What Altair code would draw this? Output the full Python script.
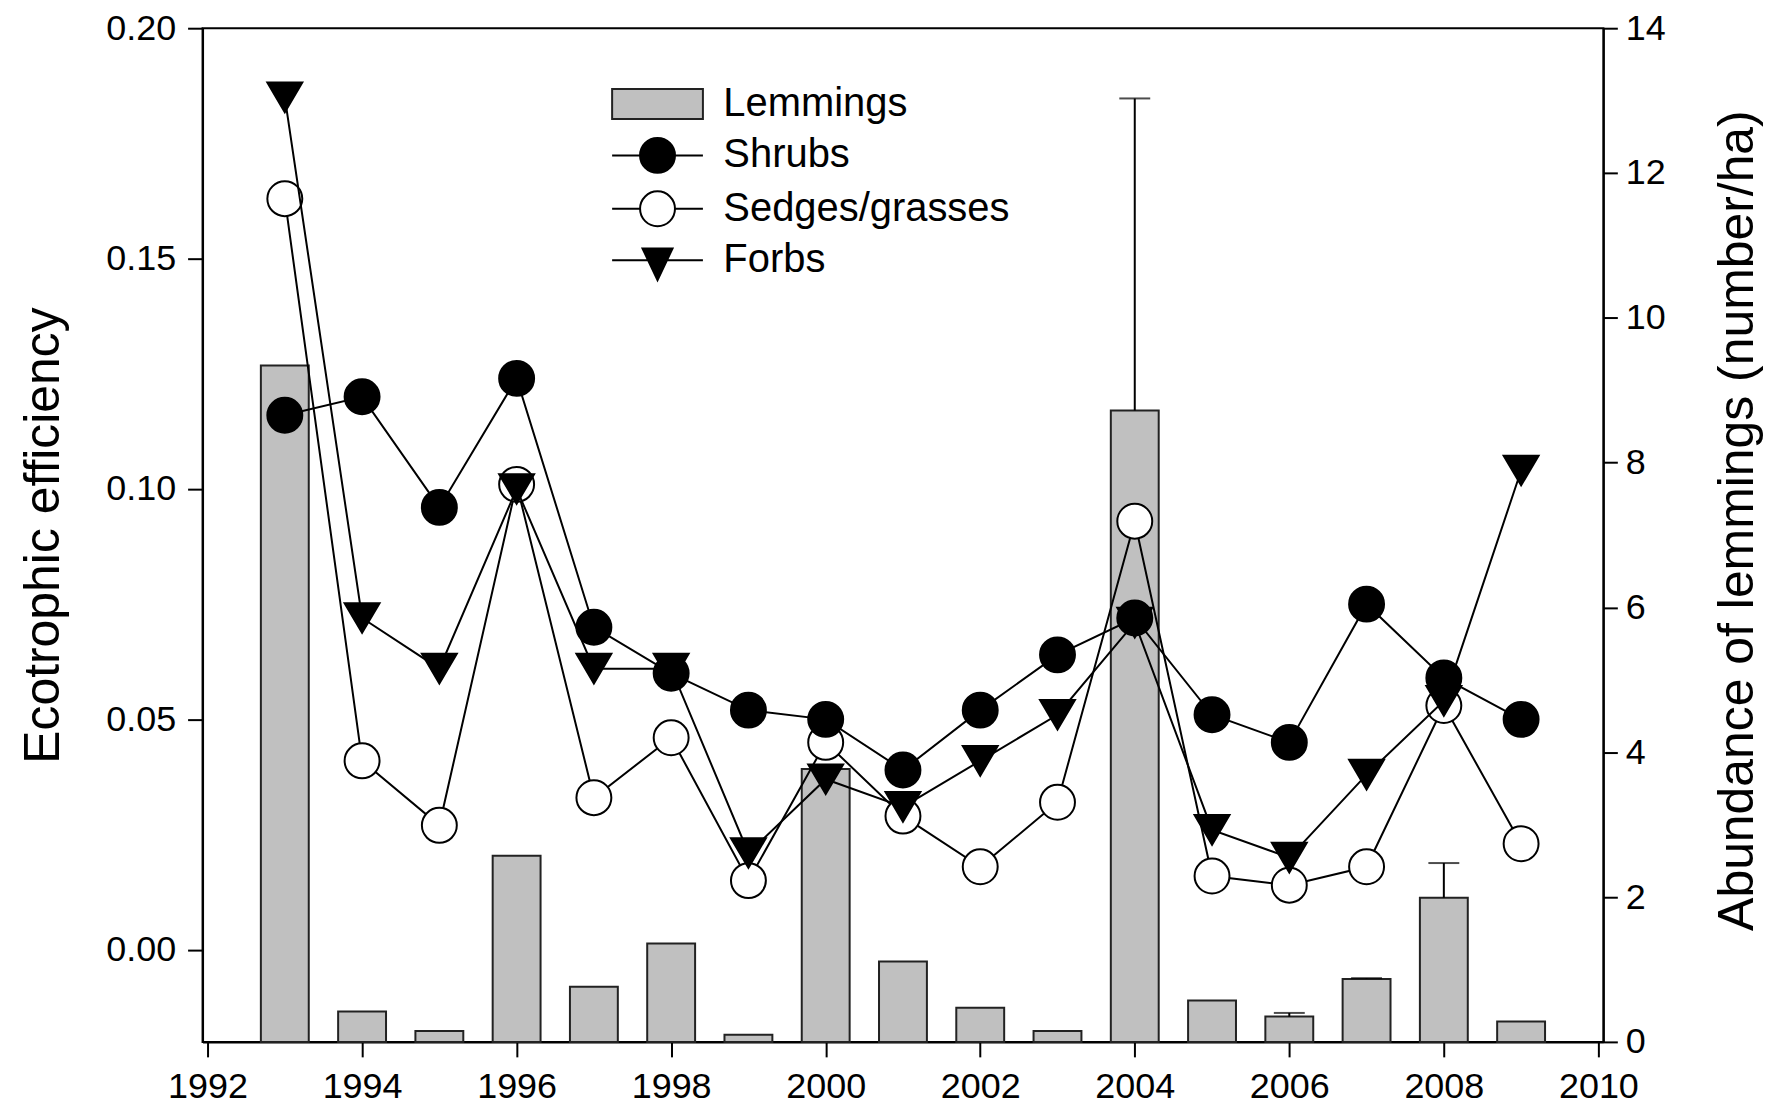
import altair as alt
import pandas as pd

years = list(range(1993, 2010))
shrubs = [0.116, 0.120, 0.096, 0.124, 0.070, 0.060, 0.052, 0.050, 0.039, 0.052, 0.064, 0.072, 0.051, 0.045, 0.075, 0.059, 0.050]
sedges = [0.163, 0.041, 0.027, 0.101, 0.033, 0.046, 0.015, 0.045, 0.029, 0.018, 0.032, 0.093, 0.016, 0.014, 0.018, 0.053, 0.023]
forbs = [0.185, 0.072, 0.061, 0.100, 0.061, 0.061, 0.021, 0.037, 0.031, 0.041, 0.051, 0.071, 0.026, 0.020, 0.038, 0.054, 0.104]
lemmings = [9.34, 0.42, 0.15, 2.57, 0.76, 1.36, 0.10, 3.77, 1.11, 0.47, 0.15, 8.72, 0.57, 0.35, 0.87, 1.99, 0.28]
err_years = [2004, 2006, 2007, 2008]
err_tops = [13.03, 0.40, 0.88, 2.47]

legend_names = ["Lemmings", "Shrubs", "Sedges/grasses", "Forbs"]

FONT = "Liberation Sans"

lem_df = pd.DataFrame({"year": years, "lem": lemmings})
err_df = pd.DataFrame({"year": err_years, "err": err_tops})
err_df = err_df.merge(lem_df, on="year")
plant_df = pd.DataFrame({"year": years, "Shrubs": shrubs, "Sedges": sedges, "Forbs": forbs})
legend_df = pd.DataFrame({"series": legend_names})

def xenc():
    return alt.X("year:Q",
                 scale=alt.Scale(domain=[1992, 2010], nice=False, zero=False),
                 axis=alt.Axis(values=list(range(1992, 2011, 2)), format="d", title=None,
                               tickSize=15, labelPadding=13))

def y_right(field):
    return alt.Y(field, type="quantitative",
                 scale=alt.Scale(domain=[0, 14], nice=False),
                 axis=alt.Axis(orient="right", values=list(range(0, 15, 2)),
                               title="Abundance of lemmings (number/ha)",
                               titleAngle=270, titleX=134, titleY=493,
                               titleAlign="center", titleBaseline="middle",
                               tickSize=14, labelPadding=8))

def y_left(field):
    return alt.Y(field, type="quantitative",
                 scale=alt.Scale(domain=[-0.02, 0.20], nice=False, zero=False),
                 axis=alt.Axis(orient="left", values=[0.0, 0.05, 0.10, 0.15, 0.20], format=".2f",
                               title="Ecotrophic efficiency",
                               titleAngle=270, titleX=-159, titleY=508,
                               titleAlign="center", titleBaseline="middle",
                               tickSize=15, labelPadding=12))

bars = alt.Chart(lem_df).mark_bar(size=48, fill="#c0c0c0", stroke="#222222", strokeWidth=2).encode(
    x=xenc(), y=y_right("lem"))
err_rule = alt.Chart(err_df).mark_rule(color="black", strokeWidth=2).encode(
    x=xenc(), y=y_right("lem"), y2="err")
err_cap = alt.Chart(err_df).mark_tick(orient="horizontal", size=31, thickness=2, color="black").encode(
    x=xenc(), y=y_right("err"))
lem_layer = alt.layer(bars, err_rule, err_cap)

tri_path = "M-1,-0.85L1,-0.85L0,0.85Z"

def series_layers(field, shape, fill):
    line = alt.Chart(plant_df).mark_line(color="black", strokeWidth=2).encode(
        x=xenc(), y=y_left(field))
    pts = alt.Chart(plant_df).mark_point(shape=shape, size=1225, filled=False, fill=fill, fillOpacity=1,
                                         stroke="black", strokeWidth=2, opacity=1).encode(
        x=xenc(), y=y_left(field))
    return [line, pts]

legend_paths = [
    "M-2.6,-0.86H2.6V0.86H-2.6Z",
    "M-2.6,0H2.6M-1,0A1,1,0,1,0,1,0A1,1,0,1,0,-1,0Z",
    "M-2.6,0H-1M1,0H2.6M-1,0A1,1,0,1,0,1,0A1,1,0,1,0,-1,0Z",
    "M-2.6,0H2.6M-0.86,-0.67L0.86,-0.67L0,1.14Z",
]
legend_fills = ["#c0c0c0", "black", "white", "black"]
legend_strokes = ["#222222", "black", "black", "black"]

leg = alt.Legend(orient="none", legendX=436, legendY=56, title=None, symbolSize=1225,
                 labelFontSize=40, labelFont=FONT, labelOffset=46, rowPadding=9.5, padding=0,
                 symbolStrokeWidth=2, labelLimit=600, symbolOpacity=1,
                 labelColor="black")

legend_layer = alt.Chart(legend_df).mark_point(size=1225, strokeWidth=2, fillOpacity=1, opacity=1).encode(
    shape=alt.Shape("series:N", scale=alt.Scale(domain=legend_names, range=legend_paths), legend=leg),
    fill=alt.Fill("series:N", scale=alt.Scale(domain=legend_names, range=legend_fills), legend=leg),
    stroke=alt.Stroke("series:N", scale=alt.Scale(domain=legend_names, range=legend_strokes), legend=leg),
).transform_filter("false")

plant_layers = (series_layers("Sedges", "circle", "white")
                + series_layers("Forbs", tri_path, "black")
                + series_layers("Shrubs", "circle", "black"))
plant_layer = alt.layer(*plant_layers, legend_layer)

chart = alt.layer(lem_layer, plant_layer).resolve_scale(y="independent").properties(
    width=1404, height=1016,
    autosize=alt.AutoSizeParams(type="none"),
    padding={"left": 195, "top": 19, "right": 160, "bottom": 62},
).configure_view(stroke="black", strokeWidth=2).configure_axis(
    grid=False, labelFont=FONT, titleFont=FONT, labelFontSize=36, titleFontSize=50,
    titleFontWeight="normal", labelColor="black", titleColor="black",
    domainColor="black", domainWidth=2, tickColor="black", tickWidth=2,
)

chart.save("out.html", embed_options={"renderer": "svg", "actions": False})
